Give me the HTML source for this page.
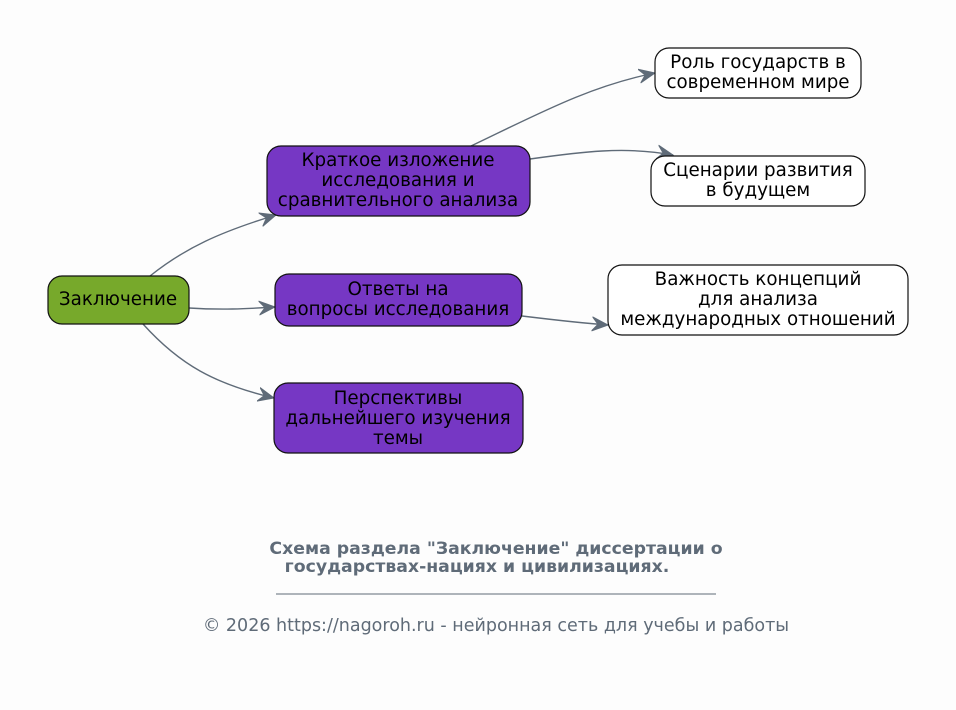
<!DOCTYPE html>
<html><head><meta charset="utf-8"><style>
body{margin:0;background:#fdfdfd;}
svg{display:block;font-family:"DejaVu Sans","Liberation Sans",sans-serif;}
</style></head><body>
<svg width="956" height="710" viewBox="0 0 956 710" xmlns="http://www.w3.org/2000/svg">
<defs>
<marker id="a" markerWidth="18" markerHeight="16" refX="16" refY="8" orient="auto" markerUnits="userSpaceOnUse">
<path d="M0,1 L16,8 L0,15 L6,8 Z" fill="#5f6b78" stroke="#5f6b78" stroke-width="1"/>
</marker>
</defs>
<g fill="none" stroke="#5f6b78" stroke-width="1.4">
<path d="M150,276 C185,248 220,232 276,215" marker-end="url(#a)"/>
<path d="M189,308 C220,310 245,309 275,307" marker-end="url(#a)"/>
<path d="M143,324 C180,365 215,384 274,398" marker-end="url(#a)"/>
<path d="M471,146 C540,113 590,86 655,73" marker-end="url(#a)"/>
<path d="M530,159 C580,152 625,146 673,155" marker-end="url(#a)"/>
<path d="M522,316 C555,320 580,323 608,325" marker-end="url(#a)"/>
</g>
<g stroke="#111" stroke-width="1.2">
<rect x="48" y="276" width="141" height="48" rx="14" fill="#77a92b"/>
<rect x="267" y="146" width="263" height="70" rx="14" fill="#7637c4"/>
<rect x="275" y="274" width="247" height="52" rx="14" fill="#7637c4"/>
<rect x="274" y="383" width="249" height="70" rx="14" fill="#7637c4"/>
<rect x="655" y="48" width="206" height="50" rx="14" fill="#fff"/>
<rect x="651" y="156" width="214" height="50" rx="14" fill="#fff"/>
<rect x="608" y="265" width="300" height="70" rx="14" fill="#fff"/>
</g>
<g font-size="18.3" fill="#000" text-anchor="middle">
<text x="118" y="305">Заключение</text>
<text x="398" y="166">Краткое изложение</text>
<text x="398" y="186">исследования и</text>
<text x="398" y="206">сравнительного анализа</text>
<text x="398" y="295">Ответы на</text>
<text x="398" y="315">вопросы исследования</text>
<text x="398" y="404">Перспективы</text>
<text x="398" y="424">дальнейшего изучения</text>
<text x="398" y="444">темы</text>
<text x="758" y="68">Роль государств в</text>
<text x="758" y="88">современном мире</text>
<text x="758" y="176">Сценарии развития</text>
<text x="758" y="196">в будущем</text>
<text x="758" y="285">Важность концепций</text>
<text x="758" y="305">для анализа</text>
<text x="758" y="325">международных отношений</text>
</g>
<g fill="#5f6b78" text-anchor="middle">
<text x="496" y="554" font-size="17.3" font-weight="bold">Схема раздела "Заключение" диссертации о</text>
<text x="477" y="572" font-size="17.3" font-weight="bold">государствах-нациях и цивилизациях.</text>
<line x1="276" y1="594" x2="716" y2="594" stroke="#5f6b78" stroke-width="1"/>
<text x="496" y="631" font-size="17.5">© 2026 https://nagoroh.ru - нейронная сеть для учебы и работы</text>
</g>
</svg>
</body></html>
